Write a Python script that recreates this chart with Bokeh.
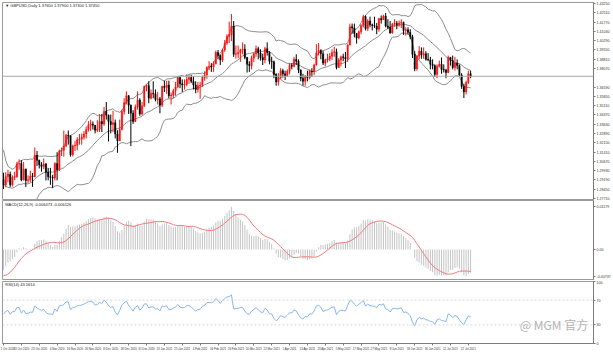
import numpy as np
from bokeh.plotting import figure
from bokeh.layouts import column
from bokeh.models import (Range1d, FixedTicker, NumeralTickFormatter, CustomJSTickFormatter,
                          Span, Label, ColumnDataSource)
from bokeh.embed import file_html
from bokeh.resources import INLINE

# ---------------- data (GBPUSD daily) ----------------
# closes before the visible window (Jul-Sep 2020), only used to warm up the indicators
warmup_close = [
    1.2475, 1.2475, 1.2480, 1.2475, 1.2550, 1.2610, 1.2600, 1.2615, 1.2560, 1.2565, 1.2580, 1.2550,
    1.2565, 1.2650, 1.2730, 1.2735, 1.2740, 1.2795, 1.2880, 1.2925, 1.2990, 1.3095, 1.3085,
    1.3075, 1.3085, 1.3120, 1.3125, 1.3060, 1.3070, 1.3045, 1.3045, 1.3065, 1.3090, 1.3095, 1.3240,
    1.3095, 1.3215, 1.3085, 1.3085, 1.3130, 1.3205, 1.3240, 1.3350, 1.3370,
    1.3385, 1.3300, 1.3260, 1.3280, 1.3155, 1.2975, 1.2995, 1.2795, 1.2795, 1.2850, 1.2910, 1.2890,
    1.2945, 1.2920, 1.2820, 1.2730, 1.2725, 1.2755, 1.2745, 1.2820, 1.2835, 1.2920,
]

opens = [
    1.2920, 1.2880, 1.2945, 1.2966, 1.2880, 1.2940, 1.2945, 1.3045, 1.3050, 1.2920, 1.3005, 1.2915, 1.2920, 1.2950, 1.2945, 1.3115, 1.3075, 1.3040, 1.3025, 1.3045, 1.2980, 1.2945,
    1.2940, 1.2935, 1.3050, 1.3000, 1.3150, 1.3155, 1.3190, 1.3275, 1.3270, 1.3120, 1.3190, 1.3195, 1.3240, 1.3245, 1.3260, 1.3285, 1.3320, 1.3355, 1.3365, 1.3355, 1.3315,
    1.3325, 1.3385, 1.3365, 1.3465, 1.3435, 1.3385, 1.3360, 1.3375, 1.3285, 1.3230, 1.3320, 1.3465, 1.3535, 1.3590, 1.3515, 1.3450, 1.3385, 1.3500, 1.3555, 1.3445, 1.3510, 1.3665,
    1.3670, 1.3570, 1.3610, 1.3605, 1.3560, 1.3565, 1.3515, 1.3665, 1.3655, 1.3675, 1.3590, 1.3595, 1.3630, 1.3660, 1.3735, 1.3685, 1.3675, 1.3680, 1.3720, 1.3735,
    1.3705, 1.3675, 1.3640, 1.3670, 1.3675, 1.3735, 1.3755, 1.3815, 1.3825, 1.3820, 1.3845, 1.3935, 1.3910, 1.3875, 1.3955, 1.4010, 1.4065, 1.4075, 1.4145, 1.3920,
    1.3925, 1.3935, 1.3955, 1.3960, 1.3895, 1.3840, 1.3830, 1.3890, 1.3925, 1.3965, 1.3930, 1.3895, 1.3875, 1.3965, 1.3935, 1.3865, 1.3860, 1.3760, 1.3700, 1.3730, 1.3790, 1.3765, 1.3750,
    1.3785, 1.3830, 1.3825, 1.3880, 1.3865, 1.3795, 1.3730, 1.3705, 1.3745, 1.3735, 1.3785, 1.3780, 1.3835, 1.3930, 1.3950, 1.3925, 1.3850, 1.3875, 1.3885, 1.3905, 1.3935, 1.3940,
    1.3815, 1.3875, 1.3900, 1.3895, 1.3885, 1.3995, 1.4140, 1.4130, 1.4085, 1.4050, 1.4100, 1.4150, 1.4220, 1.4125, 1.4185, 1.4155, 1.4150, 1.4145, 1.4120, 1.4205, 1.4195,
    1.4225, 1.4145, 1.4135, 1.4090, 1.4160, 1.4165, 1.4155, 1.4170, 1.4175, 1.4110, 1.4115, 1.4095, 1.4060, 1.3920, 1.3805, 1.3905, 1.3945, 1.3915, 1.3925, 1.3880, 1.3875, 1.3840,
    1.3830, 1.3760, 1.3825, 1.3840, 1.3800, 1.3795, 1.3775, 1.3895, 1.3870, 1.3815, 1.3850, 1.3830, 1.3755, 1.3665, 1.3620, 1.3695, 1.3765,
]
highs = [
    1.2977, 1.2980, 1.3000, 1.2986, 1.2955, 1.2985, 1.3064, 1.3083, 1.3077, 1.3063, 1.3010, 1.2955, 1.2992, 1.2975, 1.3177, 1.3150, 1.3081, 1.3060, 1.3090, 1.3055, 1.3015, 1.3015,
    1.2960, 1.3060, 1.3140, 1.3160, 1.3177, 1.3312, 1.3285, 1.3313, 1.3275, 1.3200, 1.3228, 1.3260, 1.3285, 1.3288, 1.3308, 1.3345, 1.3388, 1.3398, 1.3385, 1.3355, 1.3395,
    1.3443, 1.3445, 1.3500, 1.3540, 1.3440, 1.3440, 1.3470, 1.3400, 1.3315, 1.3400, 1.3480, 1.3570, 1.3625, 1.3595, 1.3520, 1.3475, 1.3520, 1.3625, 1.3570, 1.3540, 1.3670, 1.3680,
    1.3705, 1.3640, 1.3705, 1.3640, 1.3620, 1.3580, 1.3670, 1.3710, 1.3710, 1.3710, 1.3615, 1.3645, 1.3700, 1.3745, 1.3745, 1.3720, 1.3720, 1.3760, 1.3755, 1.3757,
    1.3745, 1.3705, 1.3700, 1.3700, 1.3750, 1.3785, 1.3825, 1.3866, 1.3850, 1.3865, 1.3950, 1.3955, 1.3920, 1.3965, 1.4035, 1.4080, 1.4180, 1.4241, 1.4185, 1.3990,
    1.3990, 1.3965, 1.4015, 1.4000, 1.3900, 1.3865, 1.3910, 1.3935, 1.3990, 1.3980, 1.3960, 1.3925, 1.3980, 1.4015, 1.3945, 1.3900, 1.3870, 1.3770, 1.3770, 1.3810, 1.3805, 1.3790, 1.3800,
    1.3850, 1.3850, 1.3900, 1.3920, 1.3880, 1.3800, 1.3765, 1.3755, 1.3790, 1.3800, 1.3810, 1.3845, 1.4000, 1.4010, 1.3960, 1.3945, 1.3885, 1.3925, 1.3930, 1.3960, 1.3980, 1.3965,
    1.3890, 1.3910, 1.3925, 1.3940, 1.4000, 1.4165, 1.4165, 1.4165, 1.4090, 1.4110, 1.4160, 1.4235, 1.4230, 1.4200, 1.4220, 1.4165, 1.4220, 1.4170, 1.4210, 1.4230, 1.4235,
    1.4250, 1.4200, 1.4185, 1.4170, 1.4200, 1.4185, 1.4190, 1.4200, 1.4180, 1.4135, 1.4135, 1.4120, 1.4075, 1.3945, 1.3915, 1.3985, 1.3975, 1.3975, 1.3945, 1.3930, 1.3900, 1.3880,
    1.3840, 1.3840, 1.3870, 1.3895, 1.3840, 1.3805, 1.3910, 1.3900, 1.3910, 1.3900, 1.3880, 1.3840, 1.3770, 1.3685, 1.3710, 1.3790, 1.3790,
]
lows = [
    1.2847, 1.2860, 1.2900, 1.2862, 1.2867, 1.2917, 1.2936, 1.3000, 1.2909, 1.2915, 1.2863, 1.2895, 1.2900, 1.2864, 1.2940, 1.3030, 1.3010, 1.2985, 1.3005, 1.2915, 1.2916, 1.2880,
    1.2855, 1.2915, 1.2915, 1.2990, 1.3110, 1.3105, 1.3180, 1.3200, 1.3105, 1.3106, 1.3150, 1.3155, 1.3200, 1.3200, 1.3240, 1.3250, 1.3305, 1.3310, 1.3320, 1.3290, 1.3300,
    1.3300, 1.3300, 1.3350, 1.3400, 1.3225, 1.3290, 1.3300, 1.3250, 1.3135, 1.3230, 1.3315, 1.3440, 1.3520, 1.3445, 1.3188, 1.3365, 1.3380, 1.3480, 1.3430, 1.3435, 1.3500, 1.3625,
    1.3530, 1.3560, 1.3570, 1.3545, 1.3520, 1.3450, 1.3500, 1.3620, 1.3605, 1.3570, 1.3520, 1.3570, 1.3590, 1.3650, 1.3650, 1.3620, 1.3640, 1.3665, 1.3685, 1.3690,
    1.3640, 1.3610, 1.3615, 1.3565, 1.3660, 1.3710, 1.3725, 1.3795, 1.3780, 1.3780, 1.3840, 1.3880, 1.3835, 1.3860, 1.3940, 1.3995, 1.4010, 1.4025, 1.3900, 1.3885,
    1.3890, 1.3860, 1.3920, 1.3880, 1.3775, 1.3780, 1.3800, 1.3860, 1.3900, 1.3880, 1.3870, 1.3835, 1.3850, 1.3910, 1.3840, 1.3805, 1.3730, 1.3670, 1.3670, 1.3725, 1.3735, 1.3715, 1.3740,
    1.3760, 1.3800, 1.3815, 1.3835, 1.3770, 1.3705, 1.3670, 1.3670, 1.3705, 1.3720, 1.3740, 1.3755, 1.3830, 1.3910, 1.3880, 1.3835, 1.3825, 1.3855, 1.3865, 1.3875, 1.3900, 1.3800,
    1.3810, 1.3825, 1.3865, 1.3810, 1.3860, 1.3990, 1.4085, 1.4055, 1.4005, 1.4040, 1.4080, 1.4135, 1.4110, 1.4105, 1.4135, 1.4110, 1.4130, 1.4080, 1.4100, 1.4165, 1.4195,
    1.4135, 1.4120, 1.4085, 1.4085, 1.4140, 1.4120, 1.4140, 1.4130, 1.4075, 1.4070, 1.4080, 1.4040, 1.3890, 1.3785, 1.3790, 1.3880, 1.3885, 1.3885, 1.3870, 1.3865, 1.3800, 1.3800,
    1.3740, 1.3730, 1.3815, 1.3765, 1.3775, 1.3730, 1.3770, 1.3830, 1.3800, 1.3790, 1.3800, 1.3745, 1.3645, 1.3572, 1.3600, 1.3685, 1.3730,
]
closes = [
    1.2880, 1.2945, 1.2966, 1.2880, 1.2940, 1.2945, 1.3045, 1.3050, 1.2920, 1.3005, 1.2915, 1.2920, 1.2950, 1.2945, 1.3115, 1.3075, 1.3040, 1.3025, 1.3045, 1.2980, 1.2945, 1.2940,
    1.2935, 1.3050, 1.3000, 1.3150, 1.3155, 1.3190, 1.3275, 1.3270, 1.3120, 1.3190, 1.3195, 1.3240, 1.3245, 1.3260, 1.3285, 1.3320, 1.3355, 1.3365, 1.3355, 1.3315, 1.3325,
    1.3385, 1.3365, 1.3465, 1.3435, 1.3385, 1.3360, 1.3375, 1.3285, 1.3230, 1.3320, 1.3465, 1.3535, 1.3590, 1.3515, 1.3450, 1.3385, 1.3500, 1.3555, 1.3445, 1.3510, 1.3665, 1.3670,
    1.3570, 1.3610, 1.3605, 1.3560, 1.3565, 1.3515, 1.3665, 1.3655, 1.3675, 1.3590, 1.3595, 1.3630, 1.3660, 1.3735, 1.3685, 1.3675, 1.3680, 1.3720, 1.3735, 1.3705,
    1.3675, 1.3640, 1.3670, 1.3675, 1.3735, 1.3755, 1.3815, 1.3825, 1.3820, 1.3845, 1.3935, 1.3910, 1.3875, 1.3955, 1.4010, 1.4065, 1.4075, 1.4145, 1.3920, 1.3925,
    1.3935, 1.3955, 1.3960, 1.3895, 1.3840, 1.3830, 1.3890, 1.3925, 1.3965, 1.3930, 1.3895, 1.3875, 1.3965, 1.3935, 1.3865, 1.3860, 1.3760, 1.3700, 1.3730, 1.3790, 1.3765, 1.3750, 1.3785,
    1.3830, 1.3825, 1.3880, 1.3865, 1.3795, 1.3730, 1.3705, 1.3745, 1.3735, 1.3785, 1.3780, 1.3835, 1.3930, 1.3950, 1.3925, 1.3850, 1.3875, 1.3885, 1.3905, 1.3935, 1.3940, 1.3815,
    1.3875, 1.3900, 1.3895, 1.3885, 1.3995, 1.4140, 1.4130, 1.4085, 1.4050, 1.4100, 1.4150, 1.4220, 1.4125, 1.4185, 1.4155, 1.4150, 1.4145, 1.4120, 1.4205, 1.4195, 1.4225,
    1.4145, 1.4135, 1.4090, 1.4160, 1.4165, 1.4155, 1.4170, 1.4175, 1.4110, 1.4115, 1.4095, 1.4060, 1.3920, 1.3805, 1.3905, 1.3945, 1.3915, 1.3925, 1.3880, 1.3875, 1.3840, 1.3830,
    1.3760, 1.3825, 1.3840, 1.3800, 1.3795, 1.3775, 1.3895, 1.3870, 1.3815, 1.3850, 1.3830, 1.3755, 1.3665, 1.3620, 1.3695, 1.3765, 1.3745,
]

date_tick_index = [0, 8, 16, 24, 32, 40, 48, 56, 64, 72, 80, 88, 96, 104, 112, 120, 128, 136,
                   144, 152, 160, 168, 176, 184, 192, 200, 208]
date_labels = ["1 Oct 2020", "13 Oct 2020", "23 Oct 2020", "4 Nov 2020", "16 Nov 2020", "26 Nov 2020",
               "8 Dec 2020", "18 Dec 2020", "31 Dec 2020", "13 Jan 2021", "25 Jan 2021", "4 Feb 2021",
               "16 Feb 2021", "26 Feb 2021", "10 Mar 2021", "22 Mar 2021", "1 Apr 2021", "13 Apr 2021",
               "23 Apr 2021", "5 May 2021", "17 May 2021", "27 May 2021", "8 Jun 2021", "18 Jun 2021",
               "30 Jun 2021", "12 Jul 2021", "22 Jul 2021"]
price_ticks = [1.2771, 1.2845, 1.2919, 1.2993, 1.3067, 1.3141, 1.3215, 1.3289, 1.3363, 1.3437,
               1.3511, 1.3585, 1.3659, 1.3807, 1.3881, 1.3955, 1.4029, 1.4103, 1.4177, 1.4251, 1.4325]
rsi_ticks = [0, 30, 70, 100]
symbol_title = "GBPUSD,Daily"
watermark_text = "@ MGM 官方"

assert len(opens) == len(highs) == len(lows) == len(closes) == 210

# ---------------- indicators ----------------
o = np.array(opens); h = np.array(highs); l = np.array(lows); c = np.array(closes)
n = len(c)
xs = np.arange(n)
allc = np.array(warmup_close + closes)
w = len(warmup_close)


def sma(a, k):
    out = np.full(len(a), np.nan)
    for i in range(k - 1, len(a)):
        out[i] = np.mean(a[i - k + 1:i + 1])
    return out


def rstd(a, k):
    out = np.full(len(a), np.nan)
    for i in range(k - 1, len(a)):
        out[i] = np.std(a[i - k + 1:i + 1])
    return out


def ema(a, k):
    al = 2.0 / (k + 1)
    out = np.empty(len(a))
    out[0] = a[0]
    for i in range(1, len(a)):
        out[i] = al * a[i] + (1 - al) * out[i - 1]
    return out


mid = sma(allc, 20)[w:]
sd = rstd(allc, 20)[w:]
upper = mid + 2 * sd
lower = mid - 2 * sd

macd_all = ema(allc, 12) - ema(allc, 26)
sig_all = sma(macd_all, 9)
macd = macd_all[w:]
sig = sig_all[w:]

d = np.diff(allc)
g = np.clip(d, 0, None)
ls = np.clip(-d, 0, None)
rsi_all = np.full(len(allc), np.nan)
ag = g[:14].mean(); al_ = ls[:14].mean()
rsi_all[14] = 100 - 100 / (1 + ag / al_)
for i in range(14, len(d)):
    ag = (ag * 13 + g[i]) / 14
    al_ = (al_ * 13 + ls[i]) / 14
    rsi_all[i + 1] = 100 - 100 / (1 + ag / al_) if al_ > 0 else 100.0
rsi = rsi_all[w:]

# ---------------- styling helpers ----------------
FONT = "Liberation Sans"
LBL = "3.6px"
xr = Range1d(-0.44, 264.0)


def style(p):
    p.outline_line_color = "#9a9a9a"
    p.outline_line_width = 1
    p.background_fill_color = "white"
    p.border_fill_color = "white"
    p.xgrid.visible = False
    p.ygrid.visible = False
    for ax in p.yaxis:
        ax.axis_line_color = "#7a7a7a"
        ax.major_tick_line_color = "#7a7a7a"
        ax.major_tick_out = 2
        ax.major_tick_in = 0
        ax.minor_tick_out = 0
        ax.minor_tick_in = 0
        ax.major_label_text_font_size = LBL
        ax.major_label_text_font = FONT
        ax.major_label_text_color = "#333333"
        ax.major_label_standoff = 1


common = dict(width=613, x_range=xr, output_backend="svg", toolbar_location=None,
              y_axis_location="right", min_border_left=2, min_border_right=16)

# ---------------- main price panel ----------------
p1 = figure(height=200, y_range=Range1d(1.2763, 1.4333), x_axis_location=None,
            min_border_top=2, min_border_bottom=1, **common)
style(p1)
p1.yaxis[0].ticker = FixedTicker(ticks=price_ticks)
p1.yaxis[0].formatter = NumeralTickFormatter(format="0.00000")

colors = ["#ff1010" if cc > oo else "#000000" for oo, cc in zip(opens, closes)]
src = ColumnDataSource(dict(x=xs, o=o, h=h, l=l, c=c, top=np.maximum(o, c), bot=np.minimum(o, c), col=colors))
p1.line(xs, upper, line_color="#8c8c8c", line_width=1)
p1.line(xs, mid, line_color="#8c8c8c", line_width=1)
p1.line(xs, lower, line_color="#8c8c8c", line_width=1)
p1.segment(x0="x", y0="l", x1="x", y1="h", line_color="col", line_width=1, source=src)
p1.vbar(x="x", width=0.62, top="top", bottom="bot", fill_color="col", line_color="col",
        line_width=0.4, source=src)

last = closes[-1]
p1.add_layout(Span(location=last, dimension="width", line_color="#a8a8a8", line_width=1))
p1.add_layout(Label(x=264.05, y=last, text=f"{last:.5f}", text_font_size=LBL, text_font=FONT,
                    text_color="white", background_fill_color="black", text_baseline="middle",
                    text_align="left", x_offset=1))
p1.add_layout(Label(x=0.8, y=1.4327, text=f"▼ {symbol_title}  {opens[-1]:.5f} {highs[-1]:.5f} {lows[-1]:.5f} {closes[-1]:.5f}",
                    text_font_size="4px", text_font=FONT, text_color="#222222", text_baseline="top"))

# ---------------- MACD panel ----------------
hi_v = float(max(np.nanmax(macd), np.nanmax(sig)))
lo_v = float(min(np.nanmin(macd), np.nanmin(sig)))
span_v = hi_v - lo_v
p2 = figure(height=80, y_range=Range1d(lo_v - 0.05 * span_v, hi_v + 0.09 * span_v),
            x_axis_location=None, min_border_top=0, min_border_bottom=1, **common)
style(p2)
p2.yaxis[0].ticker = FixedTicker(ticks=[lo_v, 0.0, hi_v])
p2.yaxis[0].formatter = CustomJSTickFormatter(code="return Math.abs(tick) < 1e-12 ? '0.00' : tick.toFixed(5);")
p2.vbar(x=xs, width=0.45, top=macd, bottom=0, fill_color="#c4c4c4", line_color=None)
p2.line(xs, sig, line_color="#f07a7a", line_width=1)
p2.add_layout(Label(x=0.8, y=hi_v + 0.07 * span_v, text=f"MACD(12,26,9) {macd[-1]:.6f} {sig[-1]:.6f}",
                    text_font_size="4px", text_font=FONT, text_color="#222222", text_baseline="top"))

# ---------------- RSI panel ----------------
p3 = figure(height=73, y_range=Range1d(0, 100), min_border_top=1, min_border_bottom=10, **common)
style(p3)
p3.yaxis[0].ticker = FixedTicker(ticks=rsi_ticks)
p3.yaxis[0].formatter = NumeralTickFormatter(format="0")
xa = p3.xaxis[0]
xa.ticker = FixedTicker(ticks=date_tick_index)
xa.major_label_overrides = {i: s for i, s in zip(date_tick_index, date_labels)}
xa.axis_line_color = "#7a7a7a"
xa.major_tick_line_color = "#7a7a7a"
xa.major_tick_out = 2
xa.major_tick_in = 0
xa.minor_tick_out = 0
xa.minor_tick_in = 0
xa.major_label_text_font_size = "2.9px"
xa.major_label_text_font = FONT
xa.major_label_text_color = "#333333"
xa.major_label_text_align = "left"
xa.major_label_standoff = 1
for lvl in (70, 30):
    p3.add_layout(Span(location=lvl, dimension="width", line_color="#d6d6d6", line_width=1,
                       line_dash="2 2"))
p3.line(xs, rsi, line_color="#86b6ec", line_width=1)
p3.add_layout(Label(x=0.8, y=99.0, text=f"RSI(14) {rsi[-1]:.4f}", text_font_size="4px",
                    text_font=FONT, text_color="#222222", text_baseline="top"))
p3.add_layout(Label(x=231.0, y=17, text=watermark_text, text_align="left",
                    text_font="Noto Sans CJK SC", text_font_size="12px", text_color="#b4b4b4"))

layout = column(p1, p2, p3, spacing=0)
open("out.html", "w").write(file_html(layout, INLINE))
